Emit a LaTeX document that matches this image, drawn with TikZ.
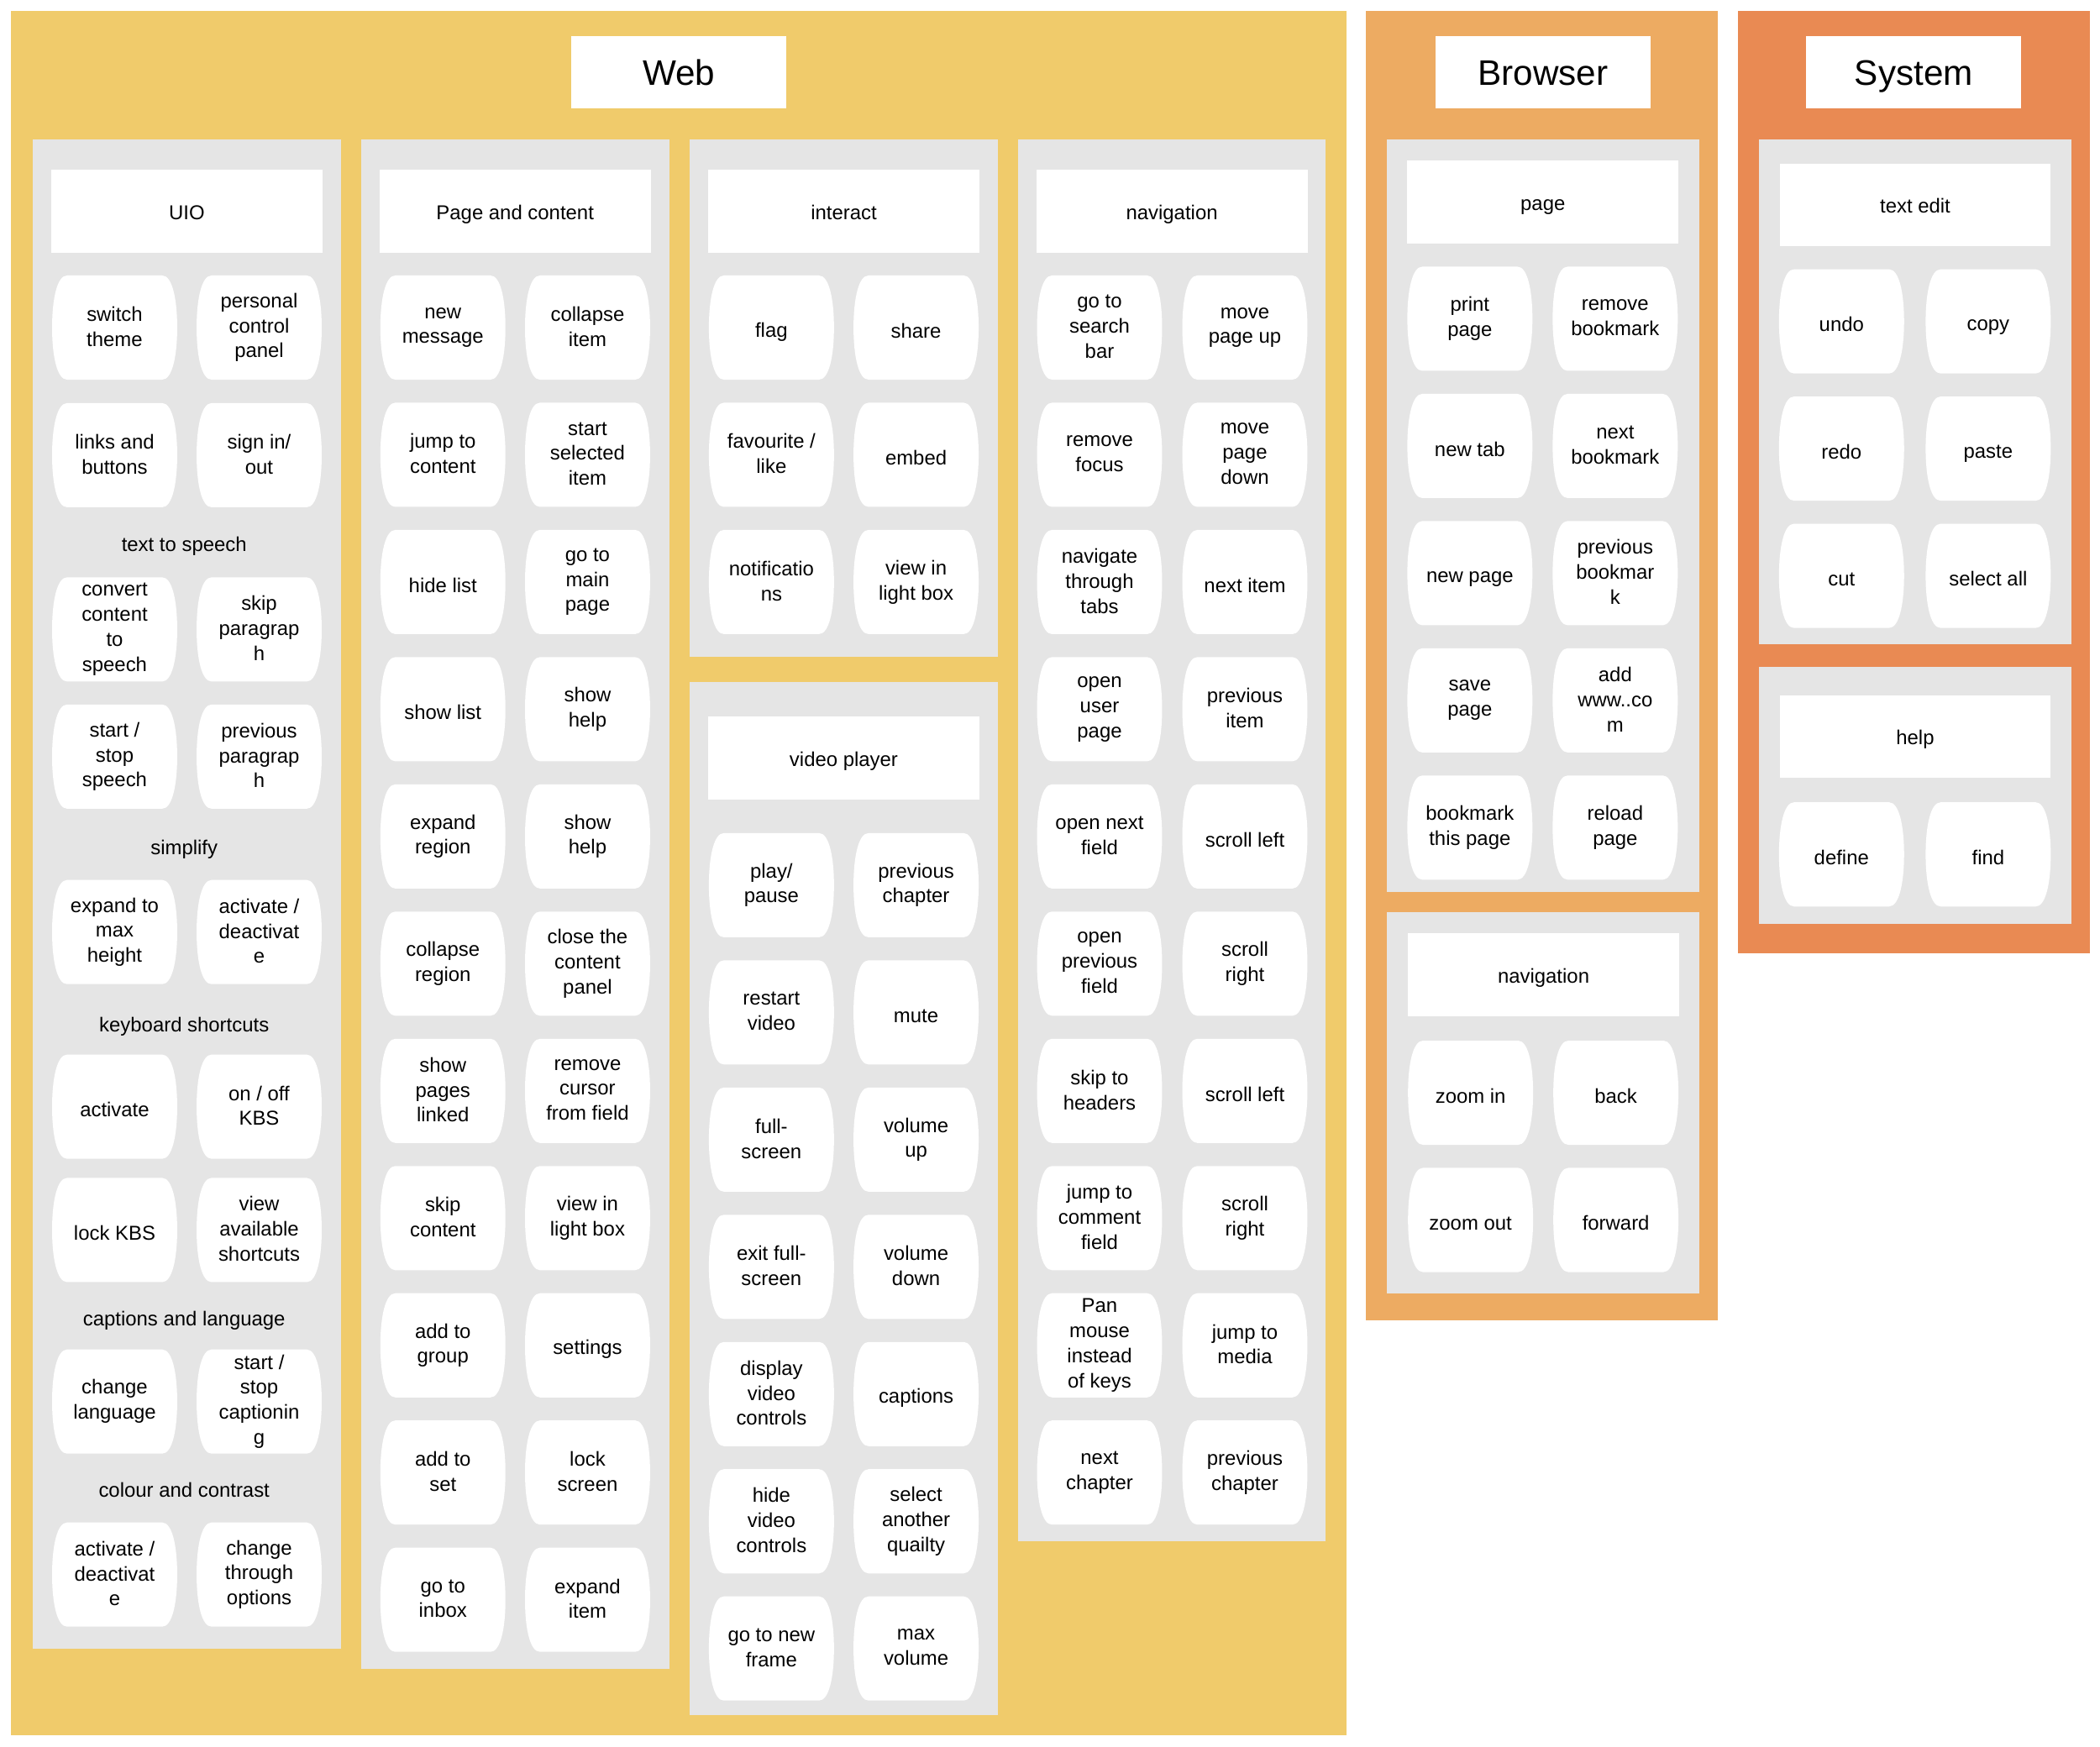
\documentclass[tikz,border=0pt]{standalone}
\usepackage{fontspec}
\setmainfont{Liberation Sans}
\definecolor{webyellow}{HTML}{F0CB6B}
\definecolor{browserorange}{HTML}{EDAB62}
\definecolor{systemorange}{HTML}{E98A53}
\definecolor{panelgray}{HTML}{E5E5E5}
\pgfdeclarelayer{back}
\pgfdeclarelayer{mid}
\pgfsetlayers{back,mid,main}

\begin{document}
\begin{tikzpicture}[x=1pt, y=-1pt,
		btn/.style = {
			rectangle, minimum width=93.4pt, minimum height=77.8pt,
			inner sep=0pt, align=center, font={\fontsize{15}{18.7}\selectfont},
			execute at begin node={\rule[-1.7pt]{0pt}{18.7pt}},
			execute at end node={\rule[-1.7pt]{0pt}{18.7pt}}
		},
		head/.style = {
			rectangle, fill=white, minimum width=202.5pt, minimum height=62pt,
			inner sep=0pt, font={\fontsize{15}{18.8}\selectfont},
			execute at begin node={\rule[-3.2pt]{0pt}{18.8pt}}
		},
		title/.style = {
			rectangle, fill=white, minimum width=160.5pt, minimum height=54pt,
			inner sep=0pt, font={\fontsize{26.5}{32}\selectfont},
			execute at begin node={\rule[-6.6pt]{0pt}{32pt}}
		},
		lbl/.style = {inner sep=0pt, font={\fontsize{15}{18.8}\selectfont},
			execute at begin node={\rule[-3.2pt]{0pt}{18.8pt}}}]
		\useasboundingbox (0,0) rectangle (1568,1304);
		
		\begin{pgfonlayer}{back}
			% outer groups
			\fill[webyellow] (8,8) rectangle (1005.5,1296);
			\fill[browserorange] (1020,8) rectangle (1282.7,986);
			\fill[systemorange] (1297.7,8) rectangle (1560.5,712);
			
			% gray panels
			\fill[panelgray] (24.5,104) rectangle (254.6,1231);
			\fill[panelgray] (269.7,104) rectangle (499.6,1246);
			\fill[panelgray] (515,104) rectangle (745,490.5);
			\fill[panelgray] (515,509) rectangle (745,1281);
			\fill[panelgray] (760,104) rectangle (990,1151);
			\fill[panelgray] (1035.5,104) rectangle (1268.8,666);
			\fill[panelgray] (1035.5,681) rectangle (1268.8,966);
			\fill[panelgray] (1313.4,104) rectangle (1546.5,481);
			\fill[panelgray] (1313.4,498) rectangle (1546.5,690);
		\end{pgfonlayer}
		
		\node at (507,54) (web) [title] {Web};
		\node at (1152,54) (browser) [title] {Browser};
		\node at (1429,54) (system) [title] {System};
		
		% UIO
		\node at (139.5,157.7) (uio) [head] {UIO};
		\node at (85.6,244.6) (uio-1l) [btn] {switch\\theme};
		\node at (193.5,244.6) (uio-1r) [btn] {personal\\control\\panel};
		\node at (85.6,339.9) (uio-2l) [btn] {links and\\buttons};
		\node at (193.5,339.9) (uio-2r) [btn] {sign in/\\out};
		\node at (137.5,405.6) (tts) [lbl] {text to speech};
		\node at (85.6,470) (uio-3l) [btn] {convert\\content\\to\\speech};
		\node at (193.5,470) (uio-3r) [btn] {skip\\paragrap\\h};
		\node at (85.6,565) (uio-4l) [btn] {start /\\stop\\speech};
		\node at (193.5,565) (uio-4r) [btn] {previous\\paragrap\\h};
		\node at (137.5,632) (simplify) [lbl] {simplify};
		\node at (85.6,696) (uio-5l) [btn] {expand to\\max\\height};
		\node at (193.5,696) (uio-5r) [btn] {activate /\\deactivat\\e};
		\node at (137.5,764.6) (kbs) [lbl] {keyboard shortcuts};
		\node at (85.6,826.4) (uio-6l) [btn] {activate};
		\node at (193.5,826.4) (uio-6r) [btn] {on / off\\KBS};
		\node at (85.6,918.5) (uio-7l) [btn] {lock KBS};
		\node at (193.5,918.5) (uio-7r) [btn] {view\\available\\shortcuts};
		\node at (137.5,984) (captions) [lbl] {captions and language};
		\node at (85.6,1046.6) (uio-8l) [btn] {change\\language};
		\node at (193.5,1046.6) (uio-8r) [btn] {start /\\stop\\captionin\\g};
		\node at (137.5,1112) (colour) [lbl] {colour and contrast};
		\node at (85.6,1175.8) (uio-9l) [btn] {activate /\\deactivat\\e};
		\node at (193.5,1175.8) (uio-9r) [btn] {change\\through\\options};
		
		% Page and content
		\node at (384.6,157.7) (pc) [head] {Page and content};
		\node at (330.7,244.6) (pc-1l) [btn] {new\\message};
		\node at (438.7,244.6) (pc-1r) [btn] {collapse\\item};
		\node at (330.7,339.6) (pc-2l) [btn] {jump to\\content};
		\node at (438.7,339.6) (pc-2r) [btn] {start\\selected\\item};
		\node at (330.7,434.6) (pc-3l) [btn] {hide list};
		\node at (438.7,434.6) (pc-3r) [btn] {go to\\main\\page};
		\node at (330.7,529.6) (pc-4l) [btn] {show list};
		\node at (438.7,529.6) (pc-4r) [btn] {show\\help};
		\node at (330.7,624.6) (pc-5l) [btn] {expand\\region};
		\node at (438.7,624.6) (pc-5r) [btn] {show\\help};
		\node at (330.7,719.6) (pc-6l) [btn] {collapse\\region};
		\node at (438.7,719.6) (pc-6r) [btn] {close the\\content\\panel};
		\node at (330.7,814.6) (pc-7l) [btn] {show\\pages\\linked};
		\node at (438.7,814.6) (pc-7r) [btn] {remove\\cursor\\from field};
		\node at (330.7,909.6) (pc-8l) [btn] {skip\\content};
		\node at (438.7,909.6) (pc-8r) [btn] {view in\\light box};
		\node at (330.7,1004.6) (pc-9l) [btn] {add to\\group};
		\node at (438.7,1004.6) (pc-9r) [btn] {settings};
		\node at (330.7,1099.6) (pc-10l) [btn] {add to\\set};
		\node at (438.7,1099.6) (pc-10r) [btn] {lock\\screen};
		\node at (330.7,1194.6) (pc-11l) [btn] {go to\\inbox};
		\node at (438.7,1194.6) (pc-11r) [btn] {expand\\item};
		
		% interact
		\node at (630,157.7) (ia) [head] {interact};
		\node at (576,244.6) (ia-1l) [btn] {flag};
		\node at (684,244.6) (ia-1r) [btn] {share};
		\node at (576,339.6) (ia-2l) [btn] {favourite /\\like};
		\node at (684,339.6) (ia-2r) [btn] {embed};
		\node at (576,434.6) (ia-3l) [btn] {notificatio\\ns};
		\node at (684,434.6) (ia-3r) [btn] {view in\\light box};
		
		% video player
		\node at (630,566) (vp) [head] {video player};
		\node at (576,661) (vp-1l) [btn] {play/\\pause};
		\node at (684,661) (vp-1r) [btn] {previous\\chapter};
		\node at (576,756) (vp-2l) [btn] {restart\\video};
		\node at (684,756) (vp-2r) [btn] {mute};
		\node at (576,851) (vp-3l) [btn] {full-\\screen};
		\node at (684,851) (vp-3r) [btn] {volume\\up};
		\node at (576,946) (vp-4l) [btn] {exit full-\\screen};
		\node at (684,946) (vp-4r) [btn] {volume\\down};
		\node at (576,1041) (vp-5l) [btn] {display\\video\\controls};
		\node at (684,1041) (vp-5r) [btn] {captions};
		\node at (576,1136) (vp-6l) [btn] {hide\\video\\controls};
		\node at (684,1136) (vp-6r) [btn] {select\\another\\quailty};
		\node at (576,1231) (vp-7l) [btn] {go to new\\frame};
		\node at (684,1231) (vp-7r) [btn] {max\\volume};
		
		% navigation
		\node at (875,157.7) (nav) [head] {navigation};
		\node at (821,244.6) (nav-1l) [btn] {go to\\search\\bar};
		\node at (929.5,244.6) (nav-1r) [btn] {move\\page up};
		\node at (821,339.6) (nav-2l) [btn] {remove\\focus};
		\node at (929.5,339.6) (nav-2r) [btn] {move\\page\\down};
		\node at (821,434.6) (nav-3l) [btn] {navigate\\through\\tabs};
		\node at (929.5,434.6) (nav-3r) [btn] {next item};
		\node at (821,529.6) (nav-4l) [btn] {open\\user\\page};
		\node at (929.5,529.6) (nav-4r) [btn] {previous\\item};
		\node at (821,624.6) (nav-5l) [btn] {open next\\field};
		\node at (929.5,624.6) (nav-5r) [btn] {scroll left};
		\node at (821,719.6) (nav-6l) [btn] {open\\previous\\field};
		\node at (929.5,719.6) (nav-6r) [btn] {scroll\\right};
		\node at (821,814.6) (nav-7l) [btn] {skip to\\headers};
		\node at (929.5,814.6) (nav-7r) [btn] {scroll left};
		\node at (821,909.6) (nav-8l) [btn] {jump to\\comment\\field};
		\node at (929.5,909.6) (nav-8r) [btn] {scroll\\right};
		\node at (821,1004.6) (nav-9l) [btn] {Pan\\mouse\\instead\\of keys};
		\node at (929.5,1004.6) (nav-9r) [btn] {jump to\\media};
		\node at (821,1099.6) (nav-10l) [btn] {next\\chapter};
		\node at (929.5,1099.6) (nav-10r) [btn] {previous\\chapter};
		
		% Browser
		\node at (1152,150.9) (bp) [head] {page};
		\node at (1097.5,238) (bp-1l) [btn] {print\\page};
		\node at (1206,238) (bp-1r) [btn] {remove\\bookmark};
		\node at (1097.5,333) (bp-2l) [btn] {new tab};
		\node at (1206,333) (bp-2r) [btn] {next\\bookmark};
		\node at (1097.5,428) (bp-3l) [btn] {new page};
		\node at (1206,428) (bp-3r) [btn] {previous\\bookmar\\k};
		\node at (1097.5,523) (bp-4l) [btn] {save\\page};
		\node at (1206,523) (bp-4r) [btn] {add\\www..co\\m};
		\node at (1097.5,618) (bp-5l) [btn] {bookmark\\this page};
		\node at (1206,618) (bp-5r) [btn] {reload\\page};
		
		\node at (1152.5,728) (bn) [head] {navigation};
		\node at (1098,816) (bn-1l) [btn] {zoom in};
		\node at (1206.5,816) (bn-1r) [btn] {back};
		\node at (1098,911) (bn-2l) [btn] {zoom out};
		\node at (1206.5,911) (bn-2r) [btn] {forward};
		
		% System
		\node at (1430,153) (te) [head] {text edit};
		\node at (1375,240) (te-1l) [btn] {undo};
		\node at (1484.5,240) (te-1r) [btn] {copy};
		\node at (1375,335) (te-2l) [btn] {redo};
		\node at (1484.5,335) (te-2r) [btn] {paste};
		\node at (1375,430) (te-3l) [btn] {cut};
		\node at (1484.5,430) (te-3r) [btn] {select all};
		
		\node at (1430,550) (help) [head] {help};
		\node at (1375,638) (help-1l) [btn] {define};
		\node at (1484.5,638) (help-1r) [btn] {find};
		
		% white barrel shapes behind the button texts
		\begin{pgfonlayer}{mid}
			\foreach \p/\k in {uio/9,pc/11,ia/3,vp/7,nav/10,bp/5,bn/2,te/3,help/1}
			\foreach \i in {1,...,\k}
			\foreach \s in {l,r}
			\fill[white, shift={(\p-\i\s.center)}]
			(35.5,-38.9) .. controls (43,-38.9) and (46.7,-21.4) .. (46.7,0)
			.. controls (46.7,21.4) and (43,38.9) .. (35.5,38.9) -- (-35.5,38.9)
			.. controls (-43,38.9) and (-46.7,21.4) .. (-46.7,0)
			.. controls (-46.7,-21.4) and (-43,-38.9) .. (-35.5,-38.9) -- cycle;
		\end{pgfonlayer}
	\end{tikzpicture}
\end{document}
